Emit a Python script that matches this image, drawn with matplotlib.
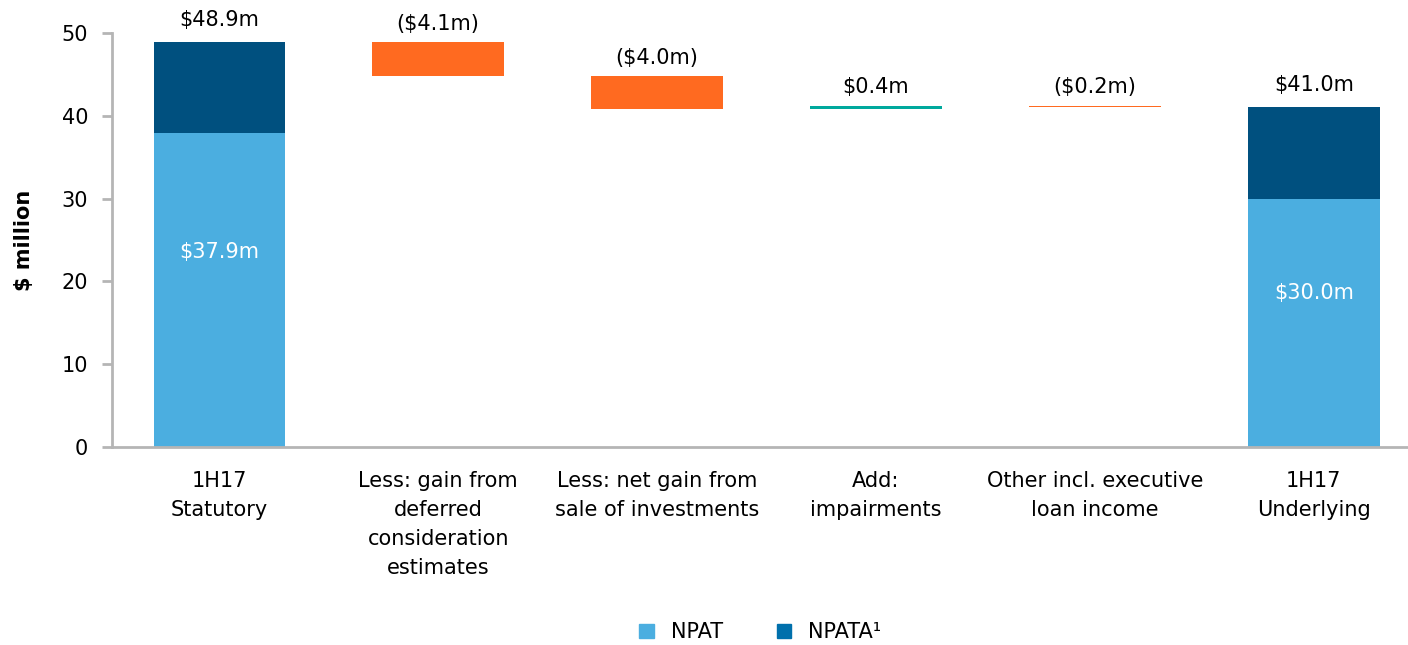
import matplotlib
matplotlib.use("Agg")
import matplotlib.pyplot as plt
from matplotlib.patches import Patch

# Bridge from statutory to underlying NPATA, $ million
categories = [
    "1H17\nStatutory",
    "Less: gain from\ndeferred\nconsideration\nestimates",
    "Less: net gain from\nsale of investments",
    "Add:\nimpairments",
    "Other incl. executive\nloan income",
    "1H17\nUnderlying",
]
npat = [37.9, None, None, None, None, 30.0]
npata = [48.9, None, None, None, None, 41.0]
steps = [None, -4.1, -4.0, 0.4, -0.2, None]
step_labels = ["($4.1m)", "($4.0m)", "$0.4m", "($0.2m)"]

C_NPAT = "#4BAEE0"
C_NPATA = "#00507F"
C_NPATA_KEY = "#0070AC"
C_DOWN = "#FF6A20"
C_UP = "#00A99D"
GREY = "#B5B5B5"

plt.rcParams["font.family"] = ["DejaVu Sans"]
FS = 15

fig = plt.figure(figsize=(14.08, 6.45), dpi=100)
ax = fig.add_axes([0.0795, 0.307, 0.9205, 0.642])

width = 0.6
running = None
k = 0
for i, cat in enumerate(categories):
    if npat[i] is not None:
        ax.bar(i, npat[i], width, color=C_NPAT, zorder=2)
        ax.bar(i, npata[i] - npat[i], width, bottom=npat[i], color=C_NPATA, zorder=2)
        ax.text(i, npat[i] * 0.62, f"${npat[i]:.1f}m", ha="center", va="center",
                color="white", fontsize=FS)
        ax.annotate(f"${npata[i]:.1f}m", (i, npata[i]), xytext=(0, 9),
                    textcoords="offset points", ha="center", va="bottom", fontsize=FS)
        running = npata[i]
    else:
        d = steps[i]
        new = running + d
        lo, hi = min(running, new), max(running, new)
        ax.bar(i, hi - lo, width, bottom=lo, color=C_UP if d > 0 else C_DOWN, zorder=2)
        ax.annotate(step_labels[k], (i, hi), xytext=(0, 6),
                    textcoords="offset points", ha="center", va="bottom", fontsize=FS)
        k += 1
        running = new

ax.set_xlim(-0.49, 5.43)
ax.set_ylim(0, 50)
ax.set_yticks(range(0, 51, 10))
ax.set_xticks(range(len(categories)))
ax.set_xticklabels(categories, fontsize=FS, linespacing=1.58)
ax.tick_params(axis="x", length=0, pad=17)
ax.tick_params(axis="y", length=7, width=2, color=GREY, labelsize=FS, pad=10)
for s in ("top", "right"):
    ax.spines[s].set_visible(False)
for s in ("left", "bottom"):
    ax.spines[s].set_color(GREY)
    ax.spines[s].set_linewidth(2)
ax.set_ylabel("$ million", fontsize=FS, fontweight="bold", labelpad=20)

handles = [Patch(color=C_NPAT, label="NPAT"), Patch(color=C_NPATA_KEY, label="NPATA¹")]
fig.legend(handles=handles, loc="lower center", bbox_to_anchor=(0.54, -0.025), ncol=2,
           frameon=False, fontsize=FS, handlelength=0.7, handleheight=0.7,
           columnspacing=2.6, handletextpad=0.8)

fig.savefig("out.png", dpi=100)
